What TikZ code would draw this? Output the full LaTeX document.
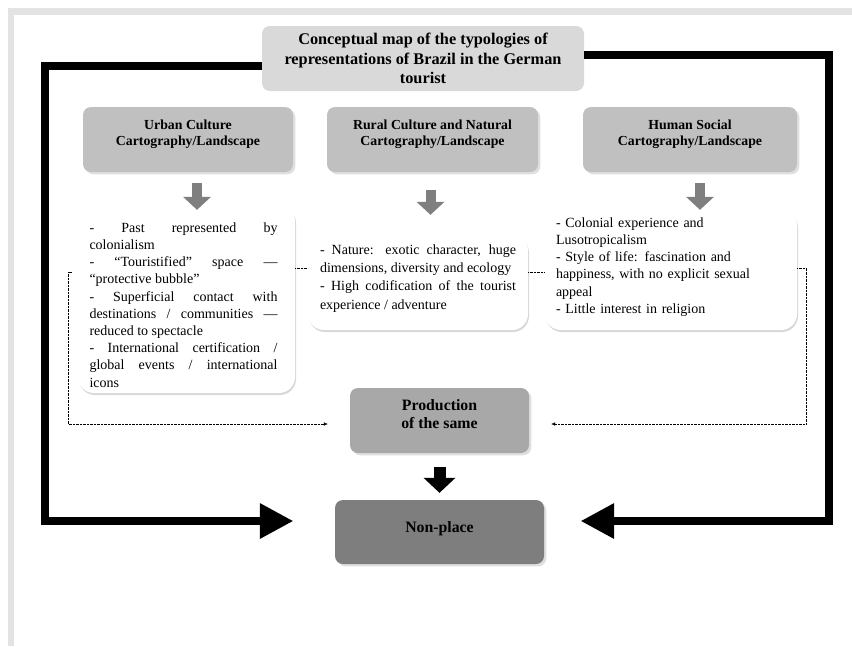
\documentclass[tikz,border=0pt]{standalone}
\usepackage{fontspec}
\setmainfont{Liberation Serif}
\usetikzlibrary{arrows.meta,shadows,positioning}

\definecolor{pagegray}{HTML}{E3E3E3}
\definecolor{titlegray}{HTML}{D9D9D9}
\definecolor{headgray}{HTML}{C0C0C0}
\definecolor{arrowgray}{HTML}{7F7F7F}
\definecolor{prodgray}{HTML}{A8A8A8}
\definecolor{placegray}{HTML}{7E7E7E}

\begin{document}
\begin{tikzpicture}[x=1pt, y=-1pt,
    titlebox/.style = {fill=titlegray, rounded corners=8pt, minimum width=322pt, minimum height=65pt,
        align=center, inner sep=0pt, font=\fontsize{16.3}{19.5}\selectfont\bfseries},
    headbox/.style = {fill=headgray, rounded corners=8pt, minimum height=65pt, drop shadow={opacity=0.25}},
    headtext/.style = {anchor=north, align=center, inner sep=0pt, font=\fontsize{13.8}{15.5}\selectfont\bfseries},
    bigtext/.style = {headtext, font=\fontsize{15.8}{18}\selectfont\bfseries},
    bodybox/.style = {fill=white, rounded corners=16pt,
        drop shadow={opacity=0.3, shadow xshift=1pt, shadow yshift=-2pt}},
    bodytext/.style = {inner sep=0pt, font=\fontsize{14}{17.2}\selectfont},
    greyarrow/.style = {draw=arrowgray, line width=10pt, -{Triangle[length=13pt, width=28pt, line width=0pt]}},
    framearrow/.style = {line width=8pt, -{Triangle[length=33pt, width=36pt, line width=0pt]}},
    dotlink/.style = {densely dotted, thin},
    ]
    % page frame
    \fill[pagegray] (8,8) rectangle (852,646);
    \fill[white] (14,15) rectangle (852,646);
    \useasboundingbox (0,0) rectangle (852,646);

    \node[titlebox] (title) at (423,58.5)
        {Conceptual map of the typologies of\\representations of Brazil in the German\\tourist};

    \begin{scope}[name prefix = urban-]
        \node[headbox, minimum width=210pt] (head) at (188,139.5) {};
        \node[headtext] (label) at ([yshift=-13pt]head.north) {Urban Culture\\Cartography/Landscape};
        \node[bodybox, minimum width=217pt, minimum height=188pt] (body) at (186.5,299) {};
        \node[bodytext, text width=188pt, align=justify] (text) at ([xshift=-3pt,yshift=-6pt]body.center)
            {- Past represented by\linebreak colonialism\\
             - “Touristified” space —\linebreak “protective bubble”\\
             - Superficial contact with\linebreak destinations / communities —\linebreak reduced to spectacle\\
             - International certification /\linebreak global events / international\linebreak icons};
        \draw[greyarrow, shorten <=11pt, shorten >=-5pt] ([xshift=9pt]head.south) -- ([xshift=9pt]head.south |- body.north);
    \end{scope}

    \begin{scope}[name prefix = rural-]
        \node[headbox, minimum width=211pt] (head) at (432.5,139.5) {};
        \node[headtext] (label) at ([yshift=-13pt]head.north) {Rural Culture and Natural\\Cartography/Landscape};
        \node[bodybox, minimum width=220pt, minimum height=95pt] (body) at (418,282.5) {};
        \node[bodytext, text width=196pt, align=justify, font=\fontsize{14}{18.2}\selectfont] (text)
            at ([yshift=4pt]body.center)
            {- Nature: exotic character, huge\linebreak dimensions, diversity and ecology\\
             - High codification of the tourist\linebreak experience / adventure};
        \draw[greyarrow, shorten <=18pt, shorten >=20pt] ([xshift=-2pt]head.south) -- ([xshift=-2pt]head.south |- body.north);
    \end{scope}

    \begin{scope}[name prefix = human-]
        \node[headbox, minimum width=214pt] (head) at (690,139.5) {};
        \node[headtext] (label) at ([yshift=-13pt]head.north) {Human Social\\Cartography/Landscape};
        \node[bodybox, minimum width=252pt, minimum height=120pt] (body) at (671,270) {};
        \node[bodytext, text width=230pt, align=left] (text) at ([yshift=3pt]body.center)
            {- Colonial experience and\\Lusotropicalism\\
             - Style of life: fascination and\\happiness, with no explicit sexual\\appeal\\
             - Little interest in religion};
        \draw[greyarrow, shorten <=11pt, shorten >=0pt] ([xshift=10pt]head.south) -- ([xshift=10pt]head.south |- body.north);
    \end{scope}

    \node[fill=prodgray, rounded corners=8pt, minimum width=179pt, minimum height=65pt,
        drop shadow={opacity=0.25}] (prod) at (439.5,420.5) {};
    \node[bigtext] (prodlabel) at ([yshift=-12pt]prod.north) {Production\\of the same};
    \node[fill=placegray, rounded corners=8pt, minimum width=209pt, minimum height=64pt,
        drop shadow={opacity=0.25}] (place) at (439.5,532) {};
    \node[bigtext, anchor=center] (placelabel) at ([yshift=3pt]place.center) {Non-place};

    % dotted links between the three typologies
    \draw[dotlink] (urban-body.east |- 0,268) -- (rural-body.west |- 0,268);
    \draw[dotlink] (rural-body.east |- 0,272) -- (human-body.west |- 0,272);
    \draw[dotlink, -{Latex[length=4pt, width=3.5pt]}] ([xshift=-6pt]urban-body.west |- 0,272) -- ++(-4,0)
        |- ([xshift=-22pt]prod.west |- 0,424);
    \draw[dotlink, -{Latex[length=4pt, width=3.5pt]}] (human-body.east |- 0,268) -- ++(9,0)
        |- ([xshift=22pt]prod.east |- 0,424);

    % production to non-place
    \draw[line width=12pt, -{Triangle[length=15pt, width=32pt, line width=0pt]}, shorten <=14pt, shorten >=7pt]
        (prod.south) -- (place.north);

    % thick frame round the map
    \draw[framearrow, shorten >=42pt] (title.west |- 0,66) -| (45,521) -- (place.west |- 0,521);
    \draw[framearrow, shorten >=37pt] (title.east |- 0,55) -| (829,521) -- (place.east |- 0,521);
\end{tikzpicture}
\end{document}
